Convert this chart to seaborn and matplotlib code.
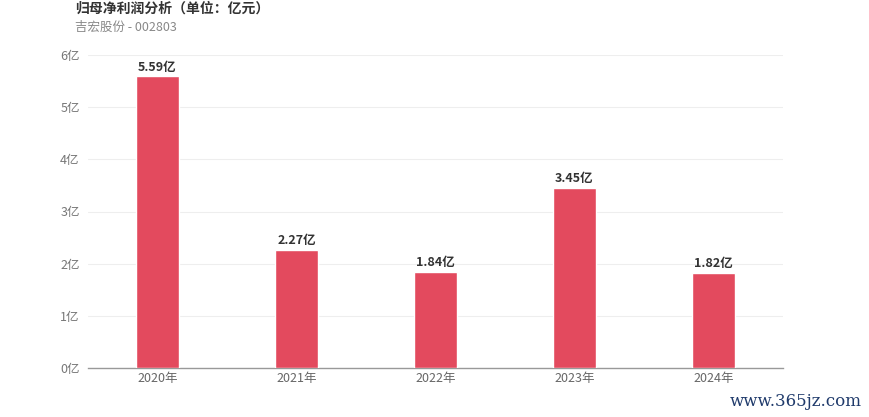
import matplotlib
matplotlib.use("Agg")
import matplotlib.pyplot as plt
import seaborn as sns
import pandas as pd

years = ["2020年", "2021年", "2022年", "2023年", "2024年"]
values = [5.59, 2.27, 1.84, 3.45, 1.82]
yticks = [0, 1, 2, 3, 4, 5, 6]
title = "归母净利润分析（单位：亿元）"
subtitle = "吉宏股份 - 002803"

sns.set_theme(style="white")
plt.rcParams['font.family'] = ['Noto Sans CJK SC', 'DejaVu Sans']

df = pd.DataFrame({"year": years, "value": values})

fig = plt.figure(figsize=(8.7, 4.17), dpi=100)
ax = fig.add_axes([88/870, 1-368/417, (783-88)/870, (368-55)/417])

sns.barplot(data=df, x="year", y="value", color="#E34A5E", width=0.31,
            saturation=1, ax=ax, zorder=3)

ax.set_ylim(0, 6)
ax.set_xlim(-0.5, 4.5)
ax.set_yticks(yticks)
ax.set_yticklabels([f"{t}亿" for t in yticks], color="#777777", fontsize=9)
ax.set_xticklabels(years, color="#666666", fontsize=9)
ax.set_xlabel("")
ax.set_ylabel("")
ax.tick_params(axis="y", length=0, pad=6)
ax.tick_params(axis="x", length=0, pad=3)
ax.grid(axis="y", color="#EEEEEE", linewidth=0.8, zorder=0)
for s in ["top", "right", "left"]:
    ax.spines[s].set_visible(False)
ax.spines["bottom"].set_color("#999999")
ax.spines["bottom"].set_linewidth(1)

for i, v in enumerate(values):
    ax.annotate(f"{v:.2f}亿", (i, v), xytext=(0, 2), textcoords="offset points",
                ha="center", va="bottom", fontsize=9, fontweight="bold", color="#333333")

fig.text(75/870, 1-9/417, title, fontsize=10, fontweight="bold", color="#333333",
         ha="left", va="center")
fig.text(75/870, 1-27/417, subtitle, fontsize=9, color="#888888", ha="left", va="center")
fig.text(862/870, 1-402/417, "www.365jz.com", fontsize=12, color="#1F3A6B",
         family="DejaVu Serif", ha="right", va="center")

fig.savefig("out.png", dpi=100)
